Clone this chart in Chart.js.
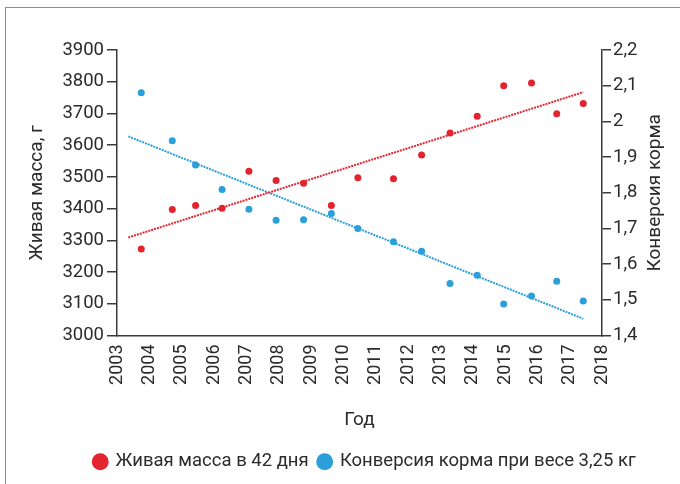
<!DOCTYPE html>
<html lang="ru">
<head>
<meta charset="utf-8">
<script src="https://cdn.jsdelivr.net/npm/chart.js@4"></script>
<style>
	html, body { margin: 0; padding: 0; background: #fff; }
	#wrap { position: relative; width: 680px; height: 484px; overflow: hidden; }
	#frame { position: absolute; left: 5px; top: 7px; width: 700px; height: 500px; border-left: 1px solid #8c8c8c; border-top: 1px solid #8c8c8c; }
	#chart { position: absolute; left: 0; top: 0; }
</style>
</head>
<body>
<div id="wrap">
	<div id="frame"></div>
	<canvas id="chart" width="680" height="484"></canvas>
</div>
<script>
// year ticks on the x axis
const yearLabels = [2003, 2004, 2005, 2006, 2007, 2008, 2009, 2010, 2011, 2012, 2013, 2014, 2015, 2016, 2017, 2018];

const pointX = [2003.75, 2004.71, 2005.43, 2006.25, 2007.08, 2007.92, 2008.77, 2009.63, 2010.45,
	2011.55, 2012.42, 2013.30, 2014.14, 2014.96, 2015.82, 2016.60, 2017.42];

// live weight at 42 days, g (left axis)
const liveWeight = [3273, 3397, 3410, 3401, 3518, 3489, 3480, 3410, 3497,
	3494, 3569, 3638, 3691, 3787, 3796, 3699, 3731];

// feed conversion at 3.25 kg (right axis)
const feedConversion = [2.08, 1.946, 1.878, 1.809, 1.754, 1.723, 1.724, 1.742, 1.700,
	1.663, 1.636, 1.546, 1.569, 1.488, 1.511, 1.552, 1.497];

// trend line end points
const trendX = [2003.35, 2017.42];
const weightTrend = [3309, 3767];
const conversionTrend = [1.958, 1.447];

const RED = '#e3242f';
const BLUE = '#2a9fd9';
const TEXT = '#2b2b2b';
const AXIS = '#3a3a3a';
const FONT = 'Roboto';

const toPoints = (xs, ys) => xs.map((x, i) => ({ x: x, y: ys[i] }));
const commaNum = v => String(Math.round(v * 10) / 10).replace('.', ',');

// axis titles drawn by hand so both side titles read bottom-to-top
const axisTitles = {
	id: 'axisTitles',
	afterDraw(chart) {
		const ctx = chart.ctx;
		const area = chart.chartArea;
		const midY = (area.top + area.bottom) / 2;
		ctx.save();
		ctx.fillStyle = TEXT;
		ctx.font = '19px ' + FONT;
		ctx.textAlign = 'center';
		ctx.textBaseline = 'middle';

		ctx.save();
		ctx.translate(37, midY);
		ctx.rotate(-Math.PI / 2);
		ctx.fillText('Живая масса, г', 0, 0);
		ctx.restore();

		ctx.save();
		ctx.translate(655, midY);
		ctx.rotate(-Math.PI / 2);
		ctx.fillText('Конверсия корма', 0, 0);
		ctx.restore();

		ctx.fillText('Год', (area.left + area.right) / 2, 420);
		ctx.restore();
	}
};

const ctx = document.getElementById('chart');

new Chart(ctx, {
	type: 'scatter',
	data: {
		datasets: [
			{
				label: 'Живая масса в 42 дня',
				data: toPoints(pointX, liveWeight),
				yAxisID: 'y',
				backgroundColor: RED,
				borderColor: RED,
				pointRadius: 3.5,
				pointBorderWidth: 0,
				order: 1
			},
			{
				label: 'Конверсия корма при весе 3,25 кг',
				data: toPoints(pointX, feedConversion),
				yAxisID: 'y1',
				backgroundColor: BLUE,
				borderColor: BLUE,
				pointRadius: 3.5,
				pointBorderWidth: 0,
				order: 1
			},
			{
				label: 'trend-weight',
				data: toPoints(trendX, weightTrend),
				yAxisID: 'y',
				showLine: true,
				borderColor: RED,
				borderWidth: 2,
				borderDash: [2, 1],
				pointRadius: 0,
				order: 2
			},
			{
				label: 'trend-conversion',
				data: toPoints(trendX, conversionTrend),
				yAxisID: 'y1',
				showLine: true,
				borderColor: BLUE,
				borderWidth: 2,
				borderDash: [2, 1],
				pointRadius: 0,
				order: 2
			}
		]
	},
	options: {
		responsive: false,
		animation: false,
		layout: { padding: { left: 50, right: 0, top: 50, bottom: 3 } },
		plugins: {
			tooltip: { enabled: false },
			legend: {
				position: 'bottom',
				labels: {
					usePointStyle: true,
					pointStyle: 'circle',
					boxWidth: 12,
					boxHeight: 12,
					padding: 10,
					color: TEXT,
					font: { family: FONT, size: 18.5 },
					filter: item => item.datasetIndex < 2
				}
			}
		},
		scales: {
			x: {
				type: 'linear',
				min: 2003,
				max: 2018,
				afterBuildTicks: scale => { scale.ticks = yearLabels.map(v => ({ value: v })); },
				afterFit: scale => { scale.height = 107; },
				ticks: {
					autoSkip: false,
					minRotation: 90,
					maxRotation: 90,
					padding: 9,
					color: TEXT,
					font: { family: FONT, size: 18 },
					callback: v => String(v)
				},
				grid: { display: false, drawTicks: false },
				border: { display: true, color: AXIS, width: 1.5 }
			},
			y: {
				position: 'left',
				min: 3000,
				max: 3900,
				afterFit: scale => { scale.width = 67; },
				ticks: {
					stepSize: 100,
					padding: 3,
					color: TEXT,
					font: { family: FONT, size: 18.5 },
					callback: v => String(v)
				},
				grid: { drawOnChartArea: false, drawTicks: true, tickLength: 10, color: AXIS, lineWidth: 1.5 },
				border: { display: true, color: AXIS, width: 1.5 }
			},
			y1: {
				position: 'right',
				min: 1.4,
				max: 2.2,
				afterFit: scale => { scale.width = 78; },
				ticks: {
					stepSize: 0.1,
					padding: 2,
					color: TEXT,
					font: { family: FONT, size: 18.5 },
					callback: v => commaNum(v)
				},
				grid: { drawOnChartArea: false, drawTicks: true, tickLength: 9, color: AXIS, lineWidth: 1.5 },
				border: { display: true, color: AXIS, width: 1.5 }
			}
		}
	},
	plugins: [axisTitles]
});
</script>
</body>
</html>
